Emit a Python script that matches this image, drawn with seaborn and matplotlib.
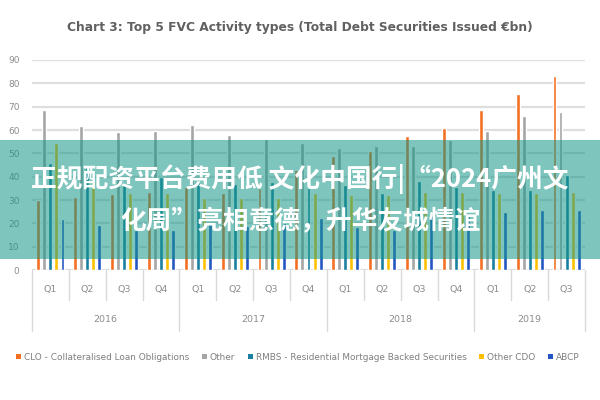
import matplotlib
matplotlib.use("Agg")
import matplotlib.pyplot as plt
import matplotlib.transforms as mtransforms
from matplotlib.patches import Rectangle, Patch
import seaborn as sns
import pandas as pd

# ---- data ----
periods = ["2016 Q1", "2016 Q2", "2016 Q3", "2016 Q4",
           "2017 Q1", "2017 Q2", "2017 Q3", "2017 Q4",
           "2018 Q1", "2018 Q2", "2018 Q3", "2018 Q4",
           "2019 Q1", "2019 Q2", "2019 Q3"]
quarters = ["Q1", "Q2", "Q3", "Q4", "Q1", "Q2", "Q3", "Q4",
            "Q1", "Q2", "Q3", "Q4", "Q1", "Q2", "Q3"]
years = ["2016", "2017", "2018", "2019"]
series_names = ["CLO - Collateralised Loan Obligations", "Other",
                "RMBS - Residential Mortgage Backed Securities", "Other CDO", "ABCP"]
clo = [30, 31.5, 32.5, 33.5, 35.5, 33, 35, 43, 49, 51, 57.5, 61, 68.5, 75.5, 83]
other = [68.5, 61.5, 59, 59.7, 62, 58, 56, 54.6, 52.2, 53, 53.2, 55.8, 59.7, 66, 67.5]
rmbs = [45.8, 45, 37, 40, 38, 37, 37.5, 35, 36.5, 33, 38, 35.7, 34.3, 34.3, 40.8]
other_cdo = [54.6, 38, 33, 33, 31, 31, 31, 33, 32, 32, 33.6, 33.6, 33, 33, 33.5]
abcp = [21.9, 19.5, 17, 17, 20, 19, 20, 22.3, 18.6, 17, 23, 23, 25, 25.7, 25.7]
yticks = [0, 10, 20, 30, 40, 50, 60, 70, 80, 90]
title = "Chart 3: Top 5 FVC Activity types (Total Debt Securities Issued €bn)"
overlay_lines = ["正规配资平台费用低 文化中国行|“2024广州文", "化周”亮相意德，升华友城情谊"]

colors = ["#f36f21", "#a5a5a5", "#1a7fa0", "#ffc000", "#2456c3"]

rows = []
for name, vals in zip(series_names, [clo, other, rmbs, other_cdo, abcp]):
    for p, v in zip(periods, vals):
        rows.append({"period": p, "series": name, "value": v})
df = pd.DataFrame(rows)

sns.set_theme(style="white")
plt.rcParams["font.family"] = ["DejaVu Sans"]

fig = plt.figure(figsize=(6, 4), dpi=100)
ax = fig.add_axes([0.0533, 0.325, 0.9217, 0.525])

sns.barplot(data=df, x="period", y="value", hue="series", order=periods,
            hue_order=series_names, palette=colors, width=0.82, gap=0.35,
            saturation=1, ax=ax, legend=False, zorder=3)

ax.set_ylim(0, 90)
ax.set_xlim(-0.5, len(periods) - 0.5)
ax.set_yticks(yticks)
ax.set_yticklabels([str(t) for t in yticks], color="#8c8c8c", fontsize=6.5)
ax.tick_params(axis="y", length=0, pad=9)
ax.set_xticks([])
ax.set_xlabel("")
ax.set_ylabel("")
for s in ax.spines.values():
    s.set_visible(False)
ax.yaxis.grid(True, color="#dedede", linewidth=1.6, zorder=0)
ax.set_axisbelow(True)

trans = mtransforms.blended_transform_factory(ax.transData, ax.transAxes)
for i, q in enumerate(quarters):
    ax.text(i, -0.095, q, transform=trans, ha="center", va="center",
            fontsize=6.8, color="#8c8c8c")
year_bounds = [-0.5, 3.5, 7.5, 11.5, 14.5]
for i in range(len(periods) + 1):
    x = i - 0.5
    y1 = -0.29 if x in year_bounds else -0.145
    ax.plot([x, x], [0, y1], transform=trans, color="#d9d9d9",
            linewidth=1.0, clip_on=False)
year_centers = [1.5, 5.5, 9.5, 13]
for yc, yl in zip(year_centers, years):
    ax.text(yc, -0.238, yl, transform=trans, ha="center", va="center",
            fontsize=6.8, color="#8c8c8c")

fig.text(0.5, 0.93, title, ha="center", va="center", fontsize=8.8,
         fontweight="bold", color="#606060")

handles = [Patch(facecolor=c, edgecolor="none") for c in colors]
fig.legend(handles, series_names, loc="center", bbox_to_anchor=(0.496, 0.107),
           ncol=5, frameon=False, fontsize=6.4, handlelength=0.6, handleheight=0.6,
           handletextpad=0.3, columnspacing=1.4, labelcolor="#7f7f7f")

# overlay band with text
fig.patches.append(Rectangle((0, 0.3525), 1, 0.2975, transform=fig.transFigure,
                             facecolor="#14968a", alpha=0.55, edgecolor="none",
                             zorder=10))
cjk = ["Noto Sans CJK SC", "DejaVu Sans"]
fig.text(0.5, 0.552, overlay_lines[0], ha="center", va="center", fontsize=18.5,
         fontweight="bold", color="white", family=cjk, zorder=11)
fig.text(0.5, 0.445, overlay_lines[1], ha="center", va="center", fontsize=18.5,
         fontweight="bold", color="white", family=cjk, zorder=11)

fig.savefig("out.png", dpi=100)
